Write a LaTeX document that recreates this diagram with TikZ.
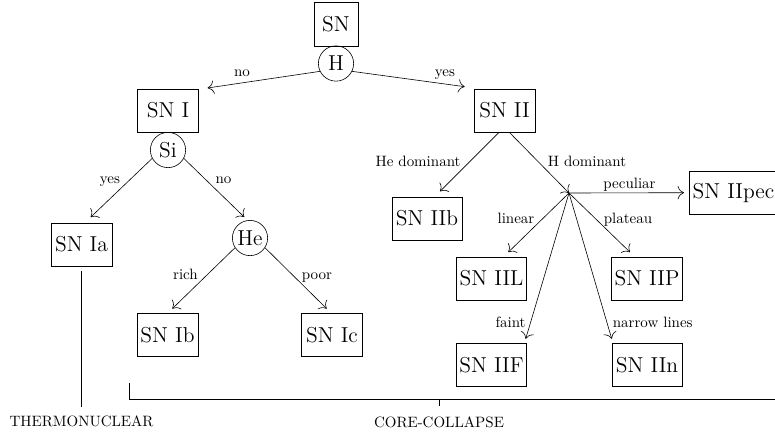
\documentclass[tikz,border=0pt]{standalone}
\usetikzlibrary{calc,arrows.meta}
\begin{document}
\begin{tikzpicture}[x=0.6667pt,y=-0.6667pt,
  box/.style={draw, font=\Large, inner sep=2pt, minimum height=28.7pt},
  sbox/.style={box, minimum width=40.7pt},
  bbox/.style={box, minimum width=46.7pt},
  ring/.style={draw, circle, font=\Large, inner sep=0pt, minimum size=23.5pt},
  lbl/.style={font=\normalsize, anchor=base, inner sep=0pt},
  arr/.style={-{To[scale=1.7]}}]
\useasboundingbox (0,0) rectangle (775,434);
\clip (0,0) rectangle (775,434);
% nodes
\node[box, minimum width=29.3pt, minimum height=29.3pt] (SN) at (336,24) {SN};
\node[ring] (H) at (336,63.5) {H};
\node[sbox] (SNI) at (168,110.5) {SN I};
\node[ring] (Si) at (168,150) {Si};
\node[sbox] (SNII) at (504.5,110.5) {SN II};
\node[sbox] (SNIa) at (81.5,244.5) {SN Ia};
\node[ring] (He) at (250,238) {He};
\node[sbox] (SNIb) at (167.5,335) {SN Ib};
\node[sbox] (SNIc) at (332,335) {SN Ic};
\node[bbox] (SNIIb) at (427,218.5) {SN IIb};
\coordinate (J) at (569,193);
\node[box, anchor=west, inner xsep=2pt] (SNIIpec) at (689.3,192.7) {SN IIpec};
\node[bbox] (SNIIL) at (491.5,278.5) {SN IIL};
\node[bbox] (SNIIP) at (647,278.5) {SN IIP};
\node[bbox] (SNIIF) at (491.5,365) {SN IIF};
\node[bbox] (SNIIn) at (647,365) {SN IIn};
% edges
\draw[arr] (H.206) -- ($(SNI.north east)+(8.8,-0.7)$);
\draw[arr] (H.334) -- ($(SNII.north west)+(-9,-2)$);
\draw[arr] (Si.208) -- ($(SNIa.north)+(9.2,-5.5)$);
\draw[arr] (Si.332) -- ($(He.north)+(-5.7,-3)$);
\draw[arr] (He.213) -- ($(SNIb.north)+(4.8,-4.5)$);
\draw[arr] (He.327) -- ($(SNIc.north)+(-5.3,-4.5)$);
\draw[arr] ($(SNII.south)+(-5.5,0)$) -- ($(SNIIb.north)+(13,-5.3)$);
\draw[arr] ($(SNII.south)+(4.8,0)$) -- (J);
\draw[arr] (J) -- ($(SNIIpec.west)+(-5.3,0)$);
\draw[arr] (J) -- ($(SNIIL.north)+(16.8,-4.5)$);
\draw[arr] (J) -- ($(SNIIP.north)+(-17,-4.5)$);
\draw[arr] (J) -- ($(SNIIF.north)+(34.2,-4.4)$);
\draw[arr] (J) -- ($(SNIIn.north)+(-35.3,-4.4)$);
% labels
\node[lbl] (l1) at (242,76) {no};
\node[lbl] (l2) at (445,76) {yes};
\node[lbl] (l3) at (110,183) {yes};
\node[lbl] (l4) at (223.5,183) {no};
\node[lbl] (l5) at (185.5,279) {rich};
\node[lbl] (l6) at (317,279) {poor};
\node[lbl] (l7) at (418,166.5) {He dominant};
\node[lbl] (l8) at (587,166.5) {H dominant};
\node[lbl] (l9) at (629.5,188) {peculiar};
\node[lbl] (l10) at (516,223) {linear};
\node[lbl] (l11) at (628,223) {plateau};
\node[lbl] (l12) at (510.5,327) {faint};
\node[lbl] (l13) at (652.7,327) {narrow lines};
\node[lbl] (TH) at (81.5,426) {THERMONUCLEAR};
\node[lbl] (CC) at (439,427) {CORE-COLLAPSE};
% classification lines
\draw ($(SNIa.south)+(0,5)$) -- ($(TH.north)+(0,-7.5)$);
\coordinate (bl) at (129,383);
\coordinate (bc) at (129,399);
\coordinate (br) at (777,399);
\coordinate (tk) at (439,399);
\draw (bl) -- (bc) -- (br);
\draw (tk) -- ($(CC.north)+(0,-9.8)$);
\end{tikzpicture}
\end{document}
